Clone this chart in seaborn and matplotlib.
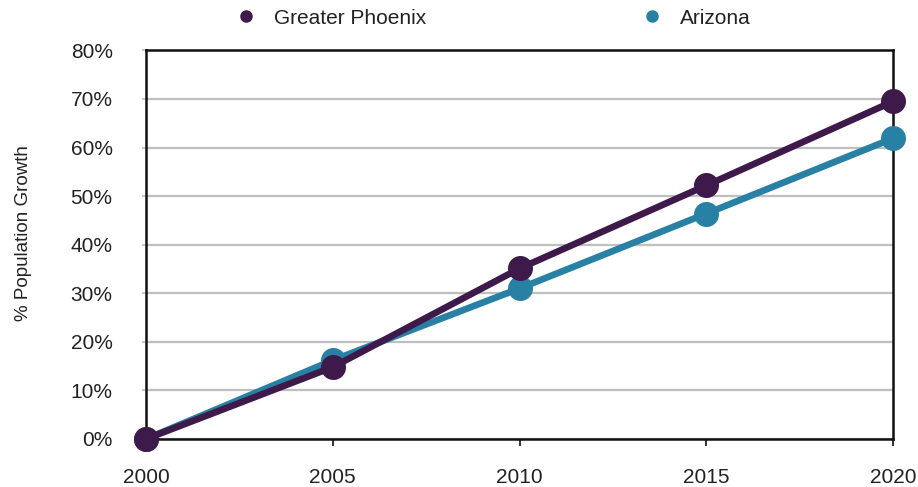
import matplotlib
matplotlib.use("Agg")
import matplotlib.pyplot as plt
from matplotlib.lines import Line2D
from matplotlib.ticker import FuncFormatter
import seaborn as sns
import pandas as pd

years = [2000, 2005, 2010, 2015, 2020]
phoenix = [0.0, 14.8, 35.1, 52.2, 69.5]
arizona = [0.0, 16.2, 31.0, 46.4, 61.9]
series_names = ["Greater Phoenix", "Arizona"]
y_ticks = [0, 10, 20, 30, 40, 50, 60, 70, 80]

colors = {"Greater Phoenix": "#3E1A4B", "Arizona": "#2880A4"}

df = pd.DataFrame({
    "year": years * 2,
    "growth": phoenix + arizona,
    "region": [series_names[0]] * len(years) + [series_names[1]] * len(years),
})

sns.set_theme(style="white")
plt.rcParams["font.family"] = ["Liberation Sans", "DejaVu Sans"]

fig = plt.figure(figsize=(9.18, 4.87), dpi=100)
ax = fig.add_axes([0.159, 0.0986, 0.814, 0.798])

# Arizona first so the Phoenix line sits on top where they cross
sns.lineplot(data=df, x="year", y="growth", hue="region",
             hue_order=["Arizona", "Greater Phoenix"], palette=colors,
             marker="o", markersize=18, markeredgewidth=0, linewidth=4.8,
             legend=False, ax=ax, zorder=5)
for ln in ax.get_lines():
    ln.set_clip_on(False)

ax.set_xlim(2000, 2020)
ax.set_ylim(0, 80)
ax.set_xticks(years)
ax.set_yticks(y_ticks)
ax.yaxis.set_major_formatter(FuncFormatter(lambda v, p: f"{int(v)}%"))

ax.grid(axis="y", color="#BFBFBF", linewidth=1.6)
ax.set_axisbelow(True)
for side in ["left", "right", "top", "bottom"]:
    ax.spines[side].set_visible(True)
    ax.spines[side].set_color("#111111")
    ax.spines[side].set_linewidth(1.8)

ax.tick_params(axis="x", which="major", direction="out", length=5, width=1.2,
               color="#111111", bottom=True, labelsize=15, pad=16, labelcolor="#222222")
ax.tick_params(axis="y", which="major", direction="out", length=3, width=1.2,
               color="#BFBFBF", left=True, labelsize=15, pad=21, labelcolor="#222222")

ax.set_xlabel("")
ax.set_ylabel("% Population Growth", fontsize=13.5, color="#222222")
ax.yaxis.set_label_coords(-0.152, 0.53)

handles = [Line2D([], [], linestyle="none", marker="o", markersize=9,
                  color=colors[n], markeredgewidth=0) for n in series_names]
fig.legend(handles, series_names, loc="center", bbox_to_anchor=(0.536, 0.963),
           ncol=2, frameon=False, fontsize=15, columnspacing=10.2,
           handletextpad=0.75, handlelength=1.2, labelcolor="#222222",
           borderpad=0, borderaxespad=0)

fig.savefig("out.png", dpi=100)
